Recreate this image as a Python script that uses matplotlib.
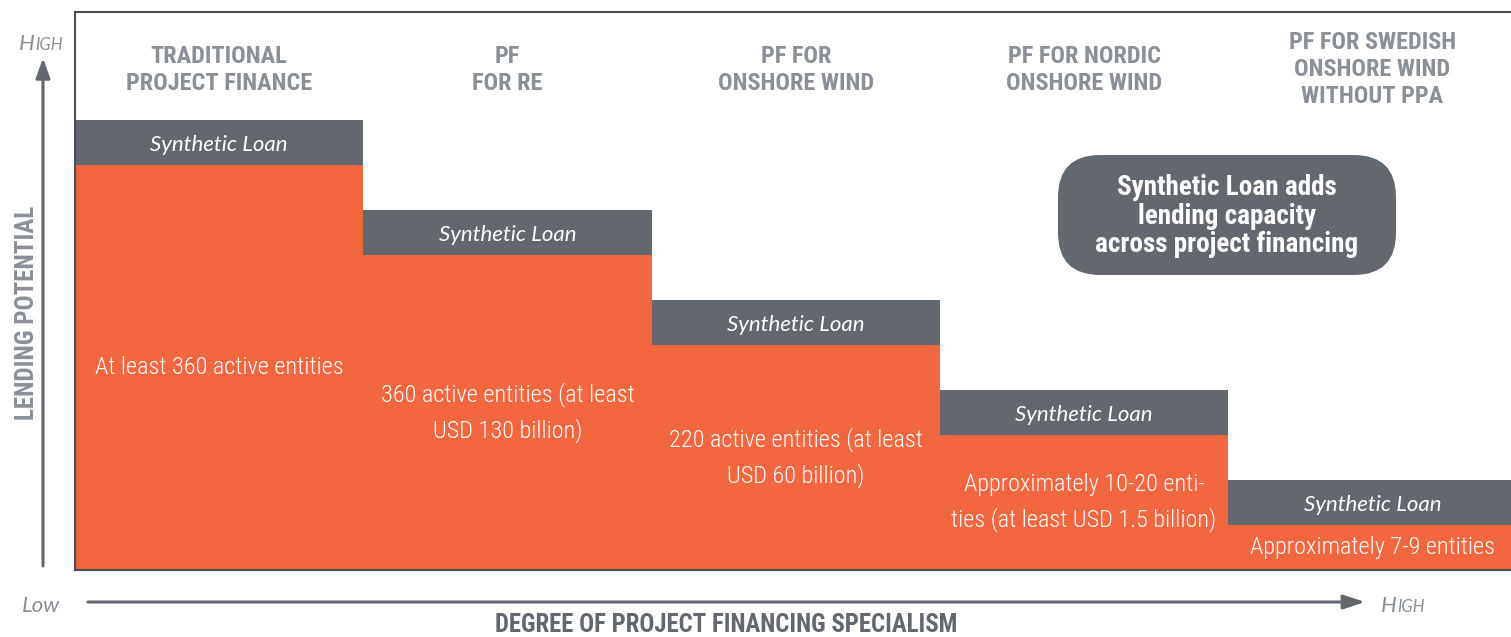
import matplotlib.pyplot as plt
from matplotlib import font_manager as fm
from matplotlib.patches import FancyBboxPatch, FancyArrowPatch

# data
categories = ['TRADITIONAL\nPROJECT FINANCE', 'PF\nFOR RE', 'PF FOR\nONSHORE WIND',
              'PF FOR NORDIC\nONSHORE WIND', 'PF FOR SWEDISH\nONSHORE WIND\nWITHOUT PPA']
lending = [9, 7, 5, 3, 1]
synthetic = [1, 1, 1, 1, 1]
entity_labels = ['At least 360 active entities',
                 '360 active entities (at least\nUSD 130 billion)',
                 '220 active entities (at least\nUSD 60 billion)',
                 'Approximately 10-20 enti-\nties (at least USD 1.5 billion)',
                 'Approximately 7-9 entities']

orange = '#F26640'
dgray = '#63676E'
lgray = '#8A9096'

# pick a narrow font if one is there
names = {f.name for f in fm.fontManager.ttflist}
cond_name = 'DejaVu Sans'
for n in ['Roboto Condensed', 'Liberation Sans Narrow', 'DejaVu Sans Condensed',
          'Open Sans Condensed', 'Noto Sans Condensed']:
    if n in names:
        cond_name = n
        break
cond = dict(family=[cond_name, 'DejaVu Sans'], fontstretch='condensed')
ital = dict(family=['Lato', 'DejaVu Sans'], style='italic')

fig = plt.figure(figsize=(15.11, 6.37), dpi=100)
W, H = 1511, 637
ax = fig.add_axes([75/W, (H-570)/H, 5*288.3/W, 558/H])
x = list(range(len(lending)))
ax.bar(x, lending, width=1.0, color=orange, align='edge')
ax.bar(x, synthetic, width=1.0, bottom=lending, color=dgray, align='edge')
ax.set_xlim(0, 5)
ax.set_ylim(0, 558/45)
ax.set_xticks([])
ax.set_yticks([])
for s in ax.spines.values():
    s.set_color('#4a4d52')
    s.set_linewidth(1.5)

for i in x:
    ax.text(i+0.5, lending[i]+synthetic[i]/2 - 0.05, 'Synthetic Loan', color='white', fontsize=16,
            ha='center', va='center', **ital)
    ax.text(i+0.5, lending[i]/2, entity_labels[i], color='white', fontsize=17.5,
            fontweight='light', ha='center', va='center', linespacing=1.6, **cond)
    ax.text(i+0.5, 11.12, categories[i], color=lgray, fontsize=17.5, fontweight='bold',
            ha='center', va='center', linespacing=1.22, **cond)

# callout box
box = FancyBboxPatch((1058/W, (H-275)/H), 338/W, 120/H, boxstyle='round,pad=0,rounding_size=0.028',
                     transform=fig.transFigure, facecolor=dgray, edgecolor='none',
                     mutation_aspect=W/H)
fig.patches.append(box)
fig.text(1227/W, (H-216)/H, 'Synthetic Loan adds\nlending capacity\nacross project financing',
         color='white', fontsize=19.5, fontweight='bold', ha='center', va='center',
         linespacing=1.08, **cond)

# axis arrows
fig.patches.append(FancyArrowPatch(
    (43/W, (H-566)/H), (43/W, (H-58)/H), transform=fig.transFigure,
    arrowstyle='-|>,head_length=12,head_width=4.3', color=dgray, lw=2.2,
    shrinkA=0, shrinkB=0))
fig.patches.append(FancyArrowPatch(
    (88/W, (H-602)/H), (1365/W, (H-602)/H), transform=fig.transFigure,
    arrowstyle='-|>,head_length=13,head_width=4.3', color=dgray, lw=2.2,
    shrinkA=0, shrinkB=0))

def small_caps(xp, yp, big, rest):
    fig.text(xp/W, (H-yp)/H, big, color=lgray, fontsize=16, ha='right', va='baseline', **ital)
    fig.text(xp/W, (H-yp)/H, rest, color=lgray, fontsize=12, ha='left', va='baseline', **ital)

small_caps(35, 50, 'H', 'IGH')
small_caps(1397, 612, 'H', 'IGH')
fig.text(22/W, (H-612)/H, 'Low', color=lgray, fontsize=16, ha='left', va='baseline', **ital)

fig.text(27/W, (H-313)/H, 'LENDING POTENTIAL', color=lgray, fontsize=18, fontweight='bold',
         rotation=90, ha='center', va='center', **cond)
fig.text(726/W, (H-625)/H, 'DEGREE OF PROJECT FINANCING SPECIALISM', color=dgray, fontsize=17.8,
         fontweight='bold', ha='center', va='center', **cond)

fig.savefig('out.png', dpi=100)
